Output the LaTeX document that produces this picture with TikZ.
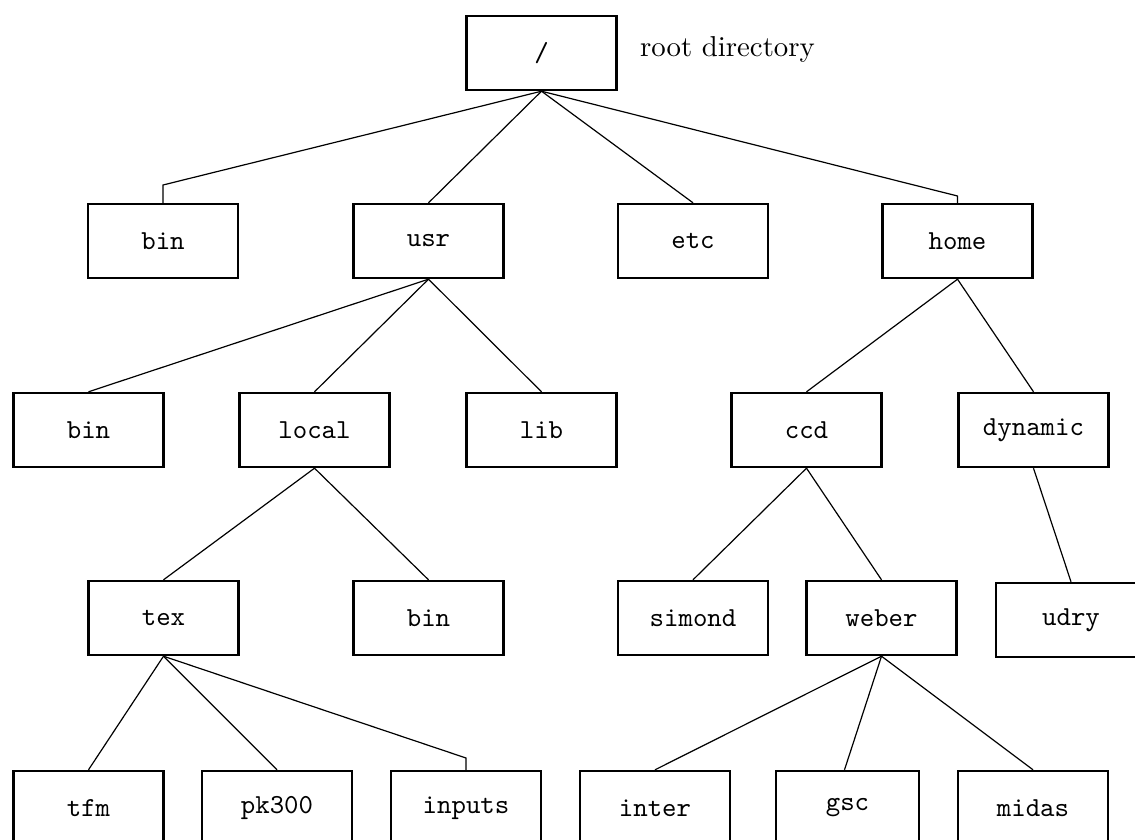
\documentclass[tikz,border=0pt]{standalone}
\usepackage{fontspec}
\newfontfamily\dirfont{lmmono10-regular.otf}
\newfontfamily\notefont{lmroman10-regular.otf}
\begin{document}
\begin{tikzpicture}[x=1pt,y=-1pt,
  dirbox/.style={draw, line width=2.4pt, minimum width=150pt, minimum height=74pt,
    inner sep=0pt, font=\fontsize{27.5}{33}\selectfont\dirfont},
  edge/.style={line width=1.2pt},
  note/.style={font=\fontsize{28.8}{34}\selectfont\notefont, anchor=west, inner sep=0pt}]
\clip (0,0) rectangle (1135,840);
\useasboundingbox (0,0) rectangle (1135,840);

% root
\node[dirbox] (root) at (541.5,53) {/};
\node[note] (rootlabel) at (640,49) {root directory};

% first level
\node[dirbox] (bin1)  at (163,241)   {bin};
\node[dirbox] (usr)   at (428.5,241) {usr};
\node[dirbox] (etc)   at (693,241)   {etc};
\node[dirbox] (home)  at (957.5,241) {home};

% second level
\node[dirbox] (bin2)    at (88.5,430)   {bin};
\node[dirbox] (local)   at (314.5,430)  {local};
\node[dirbox] (lib)     at (541.5,430)  {lib};
\node[dirbox] (ccd)     at (806.5,430)  {ccd};
\node[dirbox] (dynamic) at (1033.5,430) {dynamic};

% third level
\node[dirbox] (tex)    at (163.5,618) {tex};
\node[dirbox] (bin3)   at (428.5,618) {bin};
\node[dirbox] (simond) at (693,618)   {simond};
\node[dirbox] (weber)  at (881.5,618) {weber};
\node[dirbox] (udry)   at (1071,620)  {udry};

% fourth level
\node[dirbox] (tfm)    at (88.5,808) {tfm};
\node[dirbox] (pk300)  at (277,808)  {pk300};
\node[dirbox] (inputs) at (466,808)  {inputs};
\node[dirbox] (inter)  at (655,808)  {inter};
\node[dirbox, minimum width=143pt] (gsc) at (847.5,808) {gsc};
\node[dirbox] (midas)  at (1033,808) {midas};

% bend points of the kinked connectors
\coordinate (kbin1)   at (163,185);
\coordinate (khome)   at (957.5,196);
\coordinate (kinputs) at (466,758);

% connectors
\draw[edge] (root.south) -- (kbin1) -- (bin1.north);
\draw[edge] (root.south) -- (usr.north);
\draw[edge] (root.south) -- (etc.north);
\draw[edge] (root.south) -- (khome) -- (home.north);

\draw[edge] (usr.south) -- (bin2.north);
\draw[edge] (usr.south) -- (local.north);
\draw[edge] (usr.south) -- (lib.north);
\draw[edge] (home.south) -- (ccd.north);
\draw[edge] (home.south) -- (dynamic.north);

\draw[edge] (local.south) -- (tex.north);
\draw[edge] (local.south) -- (bin3.north);
\draw[edge] (ccd.south) -- (simond.north);
\draw[edge] (ccd.south) -- (weber.north);
\draw[edge] (dynamic.south) -- (udry.north);

\draw[edge] (tex.south) -- (tfm.north);
\draw[edge] (tex.south) -- (pk300.north);
\draw[edge] (tex.south) -- (kinputs) -- (inputs.north);
\draw[edge] (weber.south) -- (inter.north);
\draw[edge] (weber.south) -- ([xshift=-3pt]gsc.north);
\draw[edge] (weber.south) -- (midas.north);
\end{tikzpicture}
\end{document}
